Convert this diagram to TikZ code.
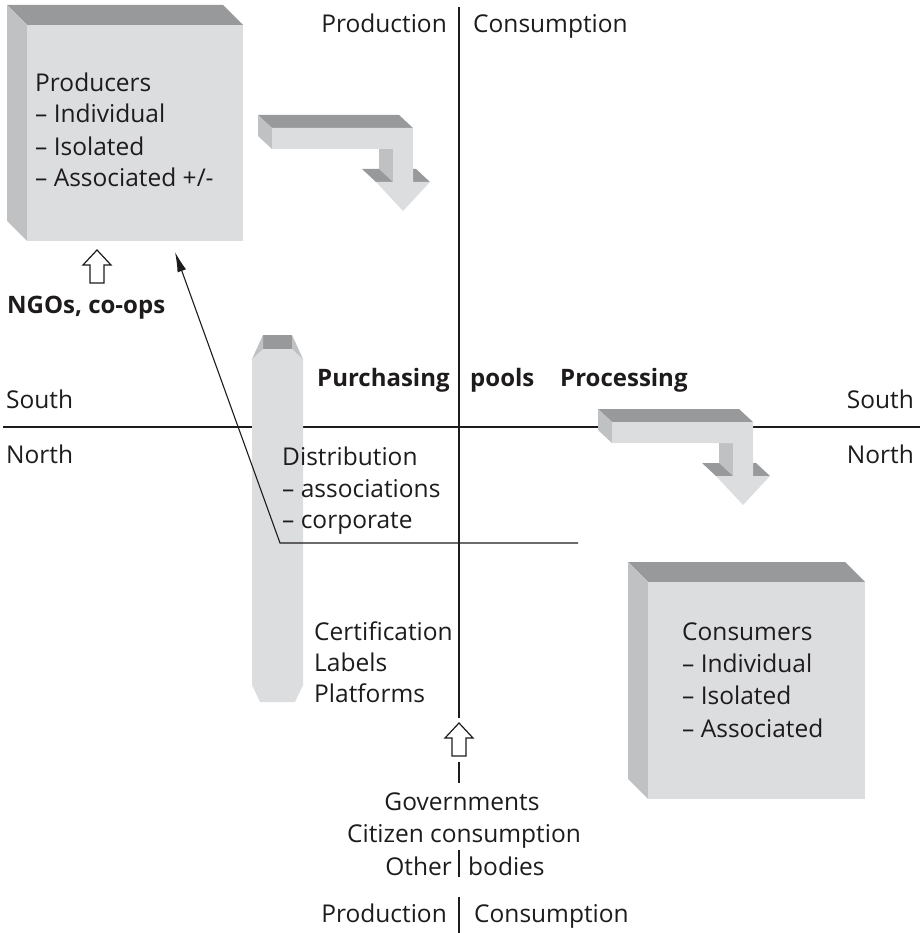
\documentclass[tikz,border=0pt]{standalone}
\usepackage{fontspec}
\setmainfont{Open Sans}
\usetikzlibrary{arrows.meta}
\definecolor{facelight}{RGB}{220,221,223}
\definecolor{facedark}{RGB}{152,153,155}
\definecolor{facemid}{RGB}{192,193,195}
\definecolor{ink}{RGB}{30,27,28}
\newcommand\mybentarrow[2]{%
\begin{scope}[shift={(#1,#2)}]
\fill[facedark] (258,115)--(399,115)--(413,128)--(272,128)--cycle;
\fill[facemid] (258,115)--(272,128)--(272,149)--(258,136)--cycle;
\fill[facemid] (379,136)--(393,149)--(393,182)--(379,169)--cycle;
\fill[facedark] (362,169)--(379,169)--(393,182)--(376,182)--cycle;
\fill[facedark] (399,169)--(416,169)--(430,182)--(413,182)--cycle;
\fill[facelight] (272,128)--(413,128)--(413,182)--(430,182)--(403,211)--(376,182)--(393,182)--(393,149)--(272,149)--cycle;
\end{scope}}
\newcommand\myhollow[2]{%
\draw[hollowarrow] (#1,#2) -- ++(14,15) -- ++(-7,0) -- ++(0,18) -- ++(-14,0) -- ++(0,-18) -- ++(-7,0) -- cycle;}
\begin{document}
\begin{tikzpicture}[x=1pt,y=-1pt,
  lbl/.style={font=\fontsize{24.5}{32}\selectfont, inner sep=0pt, text=ink},
  blbl/.style={lbl, font=\fontsize{24}{32}\selectfont\bfseries},
  axis/.style={line width=2.4pt, draw=ink},
  hollowarrow/.style={draw=ink, fill=white, line width=1.2pt, line join=miter},
  thin/.style={draw=ink, line width=1.1pt}]
\useasboundingbox (0,0) rectangle (922,933);
% axes
\coordinate (hl) at (3,427); \coordinate (hr) at (920,427);
\draw[axis] (hl) -- (hr);
\coordinate (v1a) at (459,7);   \coordinate (v1b) at (459,718);
\coordinate (v2a) at (459,762); \coordinate (v2b) at (459,783);
\coordinate (v3a) at (459,850); \coordinate (v3b) at (459,877);
\coordinate (v4a) at (459,897); \coordinate (v4b) at (459,933);
\draw[axis] (v1a) -- (v1b);
\draw[axis] (v2a) -- (v2b);
\draw[axis] (v3a) -- (v3b);
\draw[axis] (v4a) -- (v4b);
% rod
\fill[facelight] (252,359)--(263,349)--(292,349)--(303,359)--(303,685)--(295,702)--(260,702)--(252,685)--cycle;
\fill[facedark] (263,335) rectangle (292,349);
\fill[facemid] (252,359)--(263,335)--(263,349)--cycle;
\fill[facemid] (303,359)--(292,335)--(292,349)--cycle;
% producer box
\fill[facedark] (7,5)--(223,5)--(243,25)--(27,25)--cycle;
\fill[facemid] (7,5)--(27,25)--(27,241)--(7,221)--cycle;
\fill[facelight] (27,25) rectangle (243,241);
% consumer box
\fill[facedark] (628,562)--(845,562)--(865,582)--(648,582)--cycle;
\fill[facemid] (628,562)--(648,582)--(648,799)--(628,779)--cycle;
\fill[facelight] (648,582) rectangle (865,799);
% bent arrows
\mybentarrow{0}{0}
\mybentarrow{340}{294}
% hollow arrows
\myhollow{97}{250}
\myhollow{459}{723}
% thin arrow
\coordinate (dstart) at (578,543);
\coordinate (dcorner) at (280,543);
\coordinate (ptarget) at (175,252);
\draw[thin, -{Latex[length=20pt,width=9pt]}] (dstart) -- (dcorner) -- (ptarget);
% texts
\node[lbl, anchor=base east] (prodT) at (447,33) {Production};
\node[lbl, anchor=base west] (consT) at (473,33) {Consumption};
\node[lbl, anchor=base east] (prodB) at (447,922) {Production};
\node[lbl, anchor=base west] (consB) at (474,922) {Consumption};
\node[lbl, anchor=base] (gov) at (462,810) {Governments};
\node[lbl, anchor=base] (cit) at (464,842) {Citizen consumption};
\node[lbl, anchor=base east] (oth) at (452,875) {Other};
\node[lbl, anchor=base west] (bod) at (468,875) {bodies};
\node[lbl, anchor=base west] (southL) at (6,408) {South};
\node[lbl, anchor=base west] (northL) at (6,463) {North};
\node[lbl, anchor=base east] (southR) at (914,408) {South};
\node[lbl, anchor=base east] (northR) at (914,463) {North};
\node[blbl, anchor=base west] (purch) at (317,386) {Purchasing};
\node[blbl, anchor=base west] (pools) at (470,386) {pools};
\node[blbl, anchor=base west] (proc) at (560,386) {Processing};
\node[blbl, anchor=base west] (ngo) at (7,313) {NGOs, co-ops};
\node[lbl, anchor=base west] (p1) at (35,92) {Producers};
\node[lbl, anchor=base west] (p2) at (35,123) {– Individual};
\node[lbl, anchor=base west] (p3) at (35,156) {– Isolated};
\node[lbl, anchor=base west] (p4) at (35,187) {– Associated +/-};
\node[lbl, anchor=base west] (c1) at (682,640) {Consumers};
\node[lbl, anchor=base west] (c2) at (682,672) {– Individual};
\node[lbl, anchor=base west] (c3) at (682,704) {– Isolated};
\node[lbl, anchor=base west] (c4) at (682,737) {– Associated};
\node[lbl, anchor=base west] (d1) at (282,465) {Distribution};
\node[lbl, anchor=base west] (d2) at (282,497) {– associations};
\node[lbl, anchor=base west] (d3) at (282,528) {– corporate};
\node[lbl, anchor=base west] (l1) at (314,640) {Certification};
\node[lbl, anchor=base west] (l2) at (314,671) {Labels};
\node[lbl, anchor=base west] (l3) at (314,702) {Platforms};
\end{tikzpicture}
\end{document}
